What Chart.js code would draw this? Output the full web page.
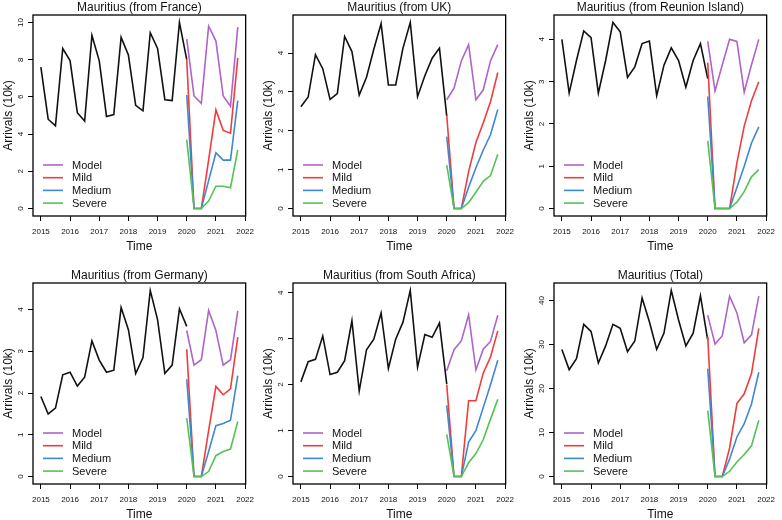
<!DOCTYPE html>
<html>
<head>
<meta charset="utf-8">
<script src="https://cdn.jsdelivr.net/npm/chart.js@4.4.1/dist/chart.umd.min.js"></script>
<style>
  body { margin: 0; background: #fff; }
  #wrap { position: relative; width: 782px; height: 520px; overflow: hidden; }
  #wrap canvas { position: absolute; }
</style>
</head>
<body>
<div id="wrap"></div>
<script>
// ---- data (arrivals, units of 10k) ----
const yearTicks = [2015, 2016, 2017, 2018, 2019, 2020, 2021, 2022];
const histQuarters = [2015, 2015.25, 2015.5, 2015.75, 2016, 2016.25, 2016.5, 2016.75,
  2017, 2017.25, 2017.5, 2017.75, 2018, 2018.25, 2018.5, 2018.75,
  2019, 2019.25, 2019.5, 2019.75, 2020];
const fcQuarters = [2020, 2020.25, 2020.5, 2020.75, 2021, 2021.25, 2021.5, 2021.75];
const scenarioNames = ["Model", "Mild", "Medium", "Severe"];

const franceTitle = "Mauritius (from France)";
const franceTicks = [0, 2, 4, 6, 8, 10];
const franceHist = [7.6, 4.8, 4.45, 8.6, 7.95, 5.15, 4.7, 9.3, 7.95, 4.95, 5.05, 9.2, 8.25, 5.55, 5.25, 9.45, 8.6, 5.85, 5.8, 10.0, 8.0];
const franceModel = [9.1, 6.05, 5.65, 9.8, 9.0, 6.05, 5.5, 9.75];
const franceMild = [8.0, 0, 0, 2.6, 5.3, 4.2, 4.05, 8.1];
const franceMedium = [6.1, 0, 0, 1.5, 3.0, 2.6, 2.6, 5.8];
const franceSevere = [3.7, 0, 0, 0.4, 1.2, 1.2, 1.12, 3.15];

const ukTitle = "Mauritius (from UK)";
const ukTicks = [0, 1, 2, 3, 4];
const ukHist = [2.62, 2.87, 3.96, 3.6, 2.81, 2.96, 4.43, 4.04, 2.92, 3.38, 4.1, 4.76, 3.18, 3.18, 4.13, 4.79, 2.88, 3.42, 3.87, 4.13, 2.38];
const ukModel = [2.8, 3.1, 3.8, 4.22, 2.8, 3.05, 3.8, 4.22];
const ukMild = [2.4, 0, 0, 0.95, 1.7, 2.2, 2.75, 3.5];
const ukMedium = [1.85, 0, 0, 0.55, 1.05, 1.5, 1.9, 2.55];
const ukSevere = [1.12, 0, 0, 0.15, 0.42, 0.7, 0.85, 1.4];

const reunionTitle = "Mauritius (from Reunion Island)";
const reunionTicks = [0, 1, 2, 3, 4];
const reunionHist = [4.0, 2.73, 3.5, 4.2, 4.04, 2.73, 3.5, 4.4, 4.18, 3.1, 3.35, 3.9, 3.96, 2.67, 3.39, 3.8, 3.5, 2.87, 3.5, 3.9, 3.07];
const reunionModel = [3.95, 2.78, 3.4, 4.0, 3.95, 2.75, 3.4, 4.0];
const reunionMild = [3.45, 0, 0, 0, 1.08, 1.95, 2.55, 3.0];
const reunionMedium = [2.65, 0, 0, 0, 0.5, 1.0, 1.55, 1.93];
const reunionSevere = [1.6, 0, 0, 0, 0.15, 0.4, 0.75, 0.92];

const germanyTitle = "Mauritius (from Germany)";
const germanyTicks = [0, 1, 2, 3, 4];
const germanyHist = [1.92, 1.5, 1.64, 2.44, 2.5, 2.17, 2.38, 3.25, 2.79, 2.5, 2.55, 4.05, 3.52, 2.47, 2.85, 4.46, 3.76, 2.47, 2.67, 4.02, 3.6];
const germanyModel = [3.5, 2.67, 2.8, 3.98, 3.5, 2.67, 2.8, 3.97];
const germanyMild = [3.05, 0, 0, 1.1, 2.16, 1.96, 2.1, 3.34];
const germanyMedium = [2.33, 0, 0, 0.6, 1.22, 1.27, 1.35, 2.42];
const germanySevere = [1.4, 0, 0, 0.12, 0.5, 0.6, 0.66, 1.32];

const safricaTitle = "Mauritius (from South Africa)";
const safricaTicks = [0, 1, 2, 3, 4];
const safricaHist = [2.06, 2.5, 2.55, 3.06, 2.22, 2.27, 2.52, 3.39, 1.86, 2.76, 2.99, 3.56, 2.35, 2.99, 3.36, 4.05, 2.38, 3.09, 3.03, 3.34, 2.01];
const safricaModel = [2.3, 2.76, 2.95, 3.52, 2.32, 2.77, 2.94, 3.51];
const safricaMild = [2.0, 0, 0, 1.65, 1.65, 2.25, 2.6, 3.17];
const safricaMedium = [1.55, 0, 0, 0.75, 1.0, 1.5, 2.0, 2.53];
const safricaSevere = [0.92, 0, 0, 0.3, 0.5, 0.8, 1.25, 1.68];

const totalTitle = "Mauritius (Total)";
const totalTicks = [0, 10, 20, 30, 40];
const totalHist = [28.9, 24.3, 26.8, 34.6, 33.0, 25.8, 29.7, 34.6, 33.7, 28.4, 30.8, 40.6, 35.2, 28.9, 32.6, 42.3, 35.6, 29.7, 32.6, 41.1, 31.0];
const totalModel = [36.7, 30.1, 32.0, 41.0, 37.2, 30.4, 32.2, 41.0];
const totalMild = [31.8, 0, 0, 6.5, 16.6, 18.8, 23.4, 33.7];
const totalMedium = [24.5, 0, 0, 4.0, 9.0, 12.0, 16.5, 23.7];
const totalSevere = [15.0, 0, 0, 1.2, 3.3, 5.0, 7.0, 12.8];

// ---- styling ----
const FONT = '"Liberation Sans", Arial, sans-serif';
const SCEN_COLORS = ["#b063c9", "#f03c3c", "#3f88cf", "#55c255"];
const PANEL_W = 260, PANEL_H = 254;
const COLS = [0, 260, 521], ROWS = [0, 268];

const panels = [
  { title: franceTitle, ticks: franceTicks, hist: franceHist, fc: [franceModel, franceMild, franceMedium, franceSevere] },
  { title: ukTitle, ticks: ukTicks, hist: ukHist, fc: [ukModel, ukMild, ukMedium, ukSevere] },
  { title: reunionTitle, ticks: reunionTicks, hist: reunionHist, fc: [reunionModel, reunionMild, reunionMedium, reunionSevere] },
  { title: germanyTitle, ticks: germanyTicks, hist: germanyHist, fc: [germanyModel, germanyMild, germanyMedium, germanySevere] },
  { title: safricaTitle, ticks: safricaTicks, hist: safricaHist, fc: [safricaModel, safricaMild, safricaMedium, safricaSevere] },
  { title: totalTitle, ticks: totalTicks, hist: totalHist, fc: [totalModel, totalMild, totalMedium, totalSevere] },
];

// box, title, rotated y labels and the in-plot legend, R style
const decor = {
  id: "decor",
  afterDraw(chart, args, opts) {
    const { ctx, chartArea: a } = chart;
    const y = chart.scales.y;
    ctx.save();
    ctx.strokeStyle = "#000";
    ctx.lineWidth = 1.3;
    ctx.strokeRect(a.left, a.top, a.right - a.left, a.bottom - a.top);

    ctx.fillStyle = "#111";
    ctx.textAlign = "center";
    ctx.textBaseline = "middle";
    ctx.font = "12px " + FONT;
    ctx.fillText(opts.title, (a.left + a.right) / 2, a.top - 7.5);

    ctx.font = "8px " + FONT;
    y.ticks.forEach((t) => {
      ctx.save();
      ctx.translate(a.left - 12, y.getPixelForValue(t.value));
      ctx.rotate(-Math.PI / 2);
      ctx.fillText(String(t.value), 0, 0);
      ctx.restore();
    });

    ctx.font = "11px " + FONT;
    ctx.textAlign = "left";
    ctx.lineWidth = 1.6;
    scenarioNames.forEach((name, i) => {
      const ly = a.bottom - 51 + i * 12.7;
      ctx.strokeStyle = SCEN_COLORS[i];
      ctx.beginPath();
      ctx.moveTo(a.left + 10, ly);
      ctx.lineTo(a.left + 30, ly);
      ctx.stroke();
      ctx.fillStyle = "#111";
      ctx.fillText(name, a.left + 39, ly + 0.5);
    });
    ctx.restore();
  },
};

function rRange(p) {
  const all = p.hist.concat(...p.fc);
  const lo = Math.min(...all), hi = Math.max(...all);
  const pad = (hi - lo) * 0.04;
  return [lo - pad, hi + pad];
}

function makePanel(p, idx) {
  const canvas = document.createElement("canvas");
  canvas.width = PANEL_W;
  canvas.height = PANEL_H;
  canvas.style.left = COLS[idx % 3] + "px";
  canvas.style.top = ROWS[Math.floor(idx / 3)] + "px";
  document.getElementById("wrap").appendChild(canvas);

  const [ymin, ymax] = rRange(p);
  const datasets = [{
    label: "Observed", data: histQuarters.map((x, i) => ({ x, y: p.hist[i] })),
    borderColor: "#111", order: 5,
  }].concat(scenarioNames.map((name, k) => ({
    label: name, data: fcQuarters.map((x, i) => ({ x, y: p.fc[k][i] })),
    borderColor: SCEN_COLORS[k], order: 4 - k,
  })));
  datasets.forEach((d) => { d.borderWidth = 1.6; d.pointRadius = 0; d.tension = 0; d.fill = false; });

  const axisGrid = { drawOnChartArea: false, drawTicks: true, tickLength: 5, color: "#000", tickWidth: 1 };
  new Chart(canvas.getContext("2d"), {
    type: "line",
    data: { datasets },
    options: {
      responsive: false, animation: false, devicePixelRatio: 1,
      layout: { padding: { top: 15, right: 8, left: 0, bottom: 0 } },
      plugins: { legend: { display: false }, tooltip: { enabled: false }, decor: { title: p.title } },
      scales: {
        x: {
          type: "linear", min: 2014.73, max: 2022.02,
          afterBuildTicks: (s) => { s.ticks = yearTicks.map((v) => ({ value: v })); },
          afterFit: (s) => { s.height = PANEL_H - 216; },
          grid: axisGrid, border: { display: false },
          ticks: { autoSkip: false, maxRotation: 0, padding: 6, color: "#111", font: { family: FONT, size: 8 },
                   callback: (v) => String(v) },
          title: { display: true, text: "Time", color: "#111", font: { family: FONT, size: 12 }, padding: 0 },
        },
        y: {
          type: "linear", min: ymin, max: ymax,
          afterBuildTicks: (s) => { s.ticks = p.ticks.map((v) => ({ value: v })); },
          afterFit: (s) => { s.width = 33; },
          grid: axisGrid, border: { display: false },
          ticks: { display: false },
          title: { display: true, text: "Arrivals (10k)", color: "#111", font: { family: FONT, size: 12 }, padding: { top: 1, bottom: 0 } },
        },
      },
    },
    plugins: [decor],
  });
}

panels.forEach(makePanel);
</script>
</body>
</html>
